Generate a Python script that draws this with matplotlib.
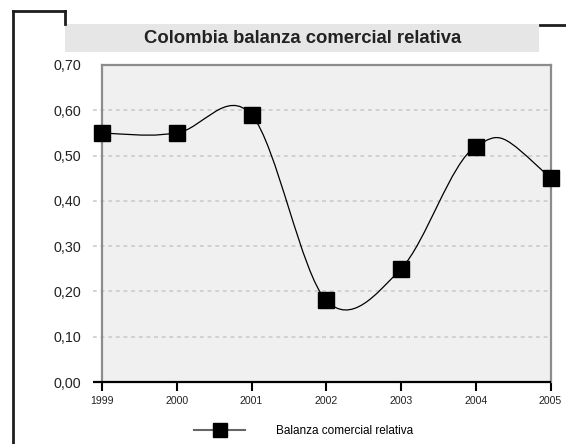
import matplotlib
matplotlib.use("Agg")
import matplotlib.pyplot as plt
from matplotlib import font_manager
from matplotlib.lines import Line2D
from matplotlib.patches import Rectangle, PathPatch
from matplotlib.path import Path

plt.rcParams['font.family'] = ['Liberation Sans', 'DejaVu Sans']

# data
years = [1999, 2000, 2001, 2002, 2003, 2004, 2005]
balanza = [0.55, 0.55, 0.59, 0.18, 0.25, 0.52, 0.45]
yticks = [0.0, 0.1, 0.2, 0.3, 0.4, 0.5, 0.6, 0.7]
ytick_labels = ['0,00', '0,10', '0,20', '0,30', '0,40', '0,50', '0,60', '0,70']
title = 'Colombia balanza comercial relativa'
series_name = 'Balanza comercial relativa'

# narrow face for the year labels if it is there
names = {f.name for f in font_manager.fontManager.ttflist}
narrow = 'Liberation Sans Narrow' if 'Liberation Sans Narrow' in names else 'Liberation Sans'

W, H = 566, 444
fig = plt.figure(figsize=(W / 100, H / 100), dpi=100)


def fx(px):
    return px / W


def fy(py):
    return 1 - py / H


# decorative frame
frame_kw = dict(color='#1e1e1e', lw=2.0, solid_capstyle='projecting')
fig.add_artist(Line2D([fx(12.5), fx(12.5)], [fy(11), fy(H + 5)], **frame_kw))
fig.add_artist(Line2D([fx(12.5), fx(65)], [fy(11), fy(11)], **frame_kw))
fig.add_artist(Line2D([fx(65), fx(65)], [fy(11), fy(24)], **frame_kw))
fig.add_artist(Line2D([fx(540), fx(W + 5)], [fy(25), fy(25)], **frame_kw))

# title box
fig.add_artist(Rectangle((fx(65), fy(52.5)), fx(474), 28.5 / H,
                         transform=fig.transFigure, color='#e6e6e6', lw=0, zorder=0))
fig.text(fx(303), fy(38.5), title, ha='center', va='center',
         fontsize=13.3, fontweight='bold', color='#222222')

# plot area
ax = fig.add_axes([fx(102), fy(382), fx(448.5), 317 / H])
ax.set_facecolor('#f0f0f0')
ax.set_xlim(years[0], years[-1])
ax.set_ylim(0, 0.7)
for s in ['left', 'top', 'right']:
    ax.spines[s].set_color('#8c8c8c')
    ax.spines[s].set_linewidth(1.6)
ax.spines['bottom'].set_visible(False)

# grid lines reaching a bit left of the plot area
trans = ax.get_yaxis_transform()
for v in yticks[1:-1]:
    ax.plot([-0.02, 1], [v, v], transform=trans, color='#c8c8c8', lw=1.1,
            dashes=(2.5, 2.5), clip_on=False, zorder=1)
ax.plot([-0.02, 1], [0, 0], transform=trans, color='black', lw=1.6,
        clip_on=False, zorder=3, solid_capstyle='butt')

ax.set_yticks(yticks)
ax.set_yticklabels(ytick_labels)
ax.tick_params(axis='y', length=0, pad=15, labelsize=10.3, labelcolor='#222222')
ax.set_xticks(years)
ax.set_xticklabels([str(y) for y in years], family=[narrow, 'DejaVu Sans'])
ax.tick_params(axis='x', length=6.5, width=1.5, color='black', pad=3.5,
               labelsize=7.6, labelcolor='#222222', direction='out')

# smoothed line (Excel-like bezier through the points)
n = len(years)
verts = [(years[0], balanza[0])]
codes = [Path.MOVETO]
for i in range(n - 1):
    x0, y0 = years[max(i - 1, 0)], balanza[max(i - 1, 0)]
    x1, y1 = years[i], balanza[i]
    x2, y2 = years[i + 1], balanza[i + 1]
    x3, y3 = years[min(i + 2, n - 1)], balanza[min(i + 2, n - 1)]
    c1 = (x1 + (x2 - x0) / 6, y1 + (y2 - y0) / 6)
    c2 = (x2 - (x3 - x1) / 6, y2 - (y3 - y1) / 6)
    if i == 0:
        c1 = c2
    if i == n - 2:
        c2 = c1
    verts += [c1, c2, (x2, y2)]
    codes += [Path.CURVE4] * 3
ax.add_patch(PathPatch(Path(verts, codes), facecolor='none', edgecolor='black',
                       lw=0.9, zorder=4))

ax.plot(years, balanza, ls='none', marker='s', ms=11, color='black',
        clip_on=False, zorder=5)

# legend
handle = Line2D([], [], color='#666666', lw=1.5, marker='s', ms=10.5,
                markerfacecolor='black', markeredgecolor='black')
fig.legend([handle], [series_name], loc='center left',
           bbox_to_anchor=(fx(188), fy(431)), frameon=False, fontsize=8.5,
           handlelength=4.35, handletextpad=2.6, borderpad=0)

fig.savefig('out.png', dpi=100)
